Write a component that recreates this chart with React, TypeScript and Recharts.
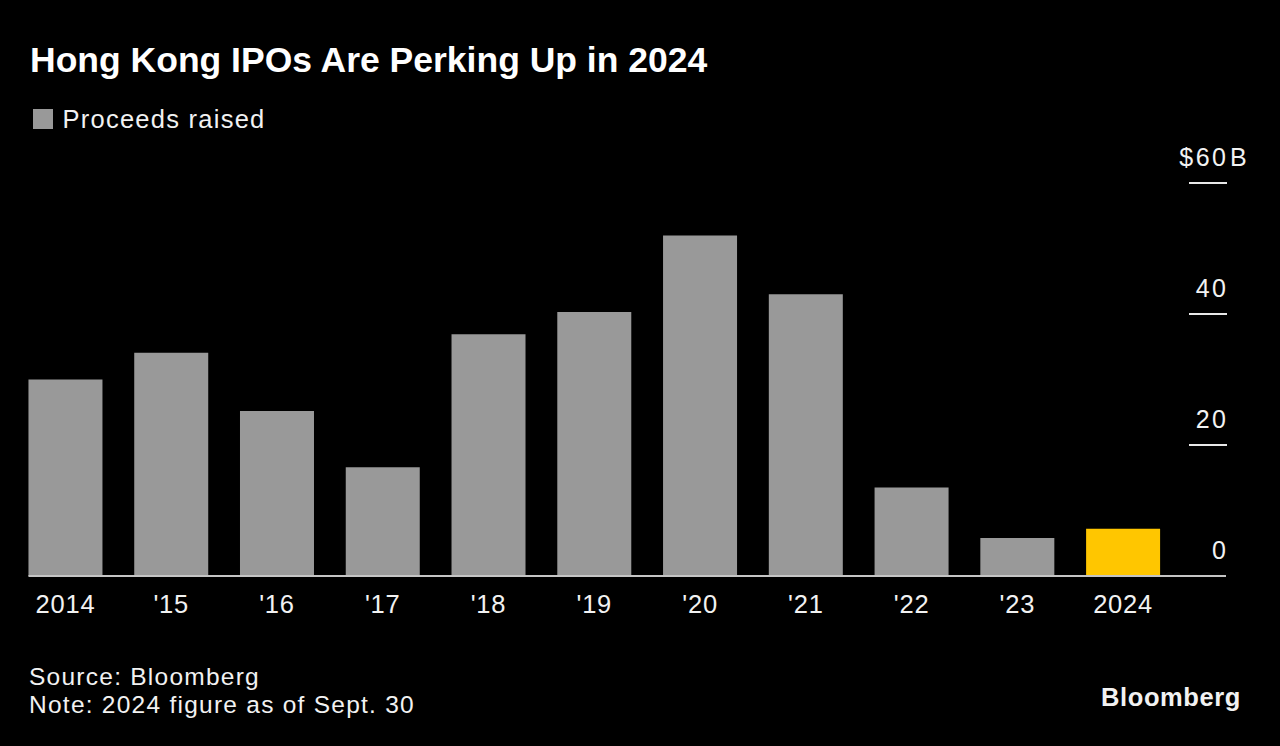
import { BarChart, Bar, XAxis, YAxis, Cell, ReferenceLine } from "recharts";

const years = ["2014", "'15", "'16", "'17", "'18", "'19", "'20", "'21", "'22", "'23", "2024"];
const proceeds = [30.0, 34.1, 25.2, 16.6, 36.9, 40.3, 52.0, 43.0, 13.5, 5.8, 7.2];
const yTicks = [0, 20, 40, 60];
const highlightYear = "2024";

const FONT = '"Liberation Sans", Arial, Helvetica, sans-serif';
const GRAY = "#999999";
const YELLOW = "#FFC600";
const TEXT = "#f2f2f2";

// plot box
const PLOT_LEFT = 12.6;
const PLOT_RIGHT = 1176;
const GAP = 0.15; // share of each band left empty on each side of a bar
const BAND = (PLOT_RIGHT - PLOT_LEFT) / years.length;

const data = years.map((year, i) => ({ year, value: proceeds[i] }));

function YTick(props: any) {
  const { x, y, payload } = props;
  const v = payload.value;
  const isTop = v === yTicks[yTicks.length - 1];
  return (
    <g>
      {v !== 0 && (
        <line x1={x + 13} x2={x + 51} y1={y} y2={y} stroke="#e8e8e8" strokeWidth={2} />
      )}
      <text
        x={x + 52.5}
        y={y - 17.5}
        textAnchor="end"
        fill={TEXT}
        fontSize={25}
        fontFamily={FONT}
        letterSpacing={2.5}
      >
        {isTop ? "$" + v : v}
      </text>
      {isTop && (
        <text x={x + 54} y={y - 17.5} fill={TEXT} fontSize={25} fontFamily={FONT}>
          B
        </text>
      )}
    </g>
  );
}

// baseline runs from the first bar's left edge out to the value labels
function Baseline(props: any) {
  const { y1 } = props;
  return (
    <line
      x1={PLOT_LEFT + BAND * GAP}
      y1={y1}
      x2={PLOT_RIGHT + 50}
      y2={y1}
      stroke="#c4c4c4"
      strokeWidth={2}
    />
  );
}

const textStyle = (size: number, top: number, left: number, extra: any = {}) => ({
  position: "absolute" as const,
  top,
  left,
  fontSize: size,
  lineHeight: 1,
  fontFamily: FONT,
  color: TEXT,
  whiteSpace: "nowrap" as const,
  ...extra,
});

export default function App() {
  return (
    <div
      style={{
        position: "absolute",
        left: 0,
        top: 0,
        width: 1280,
        height: 746,
        background: "#000",
        overflow: "hidden",
      }}
    >
      <div style={textStyle(35.5, 42.7, 30, { fontWeight: 700, color: "#fff" })}>
        Hong Kong IPOs Are Perking Up in 2024
      </div>
      <div style={{ position: "absolute", left: 33, top: 109, width: 20, height: 20, background: GRAY }} />
      <div style={textStyle(25.5, 107.4, 62.5, { letterSpacing: 1.25 })}>Proceeds raised</div>

      <div style={{ position: "absolute", left: 0, top: 0 }}>
        <BarChart
          width={1280}
          height={746}
          data={data}
          margin={{ top: 183, right: 50, bottom: 130, left: PLOT_LEFT }}
          barCategoryGap={`${GAP * 100}%`}
        >
          <XAxis
            dataKey="year"
            axisLine={false}
            tickLine={false}
            tickSize={0}
            tickMargin={19}
            height={40}
            interval={0}
            tick={{ fill: TEXT, fontSize: 25.5, fontFamily: FONT, letterSpacing: 0.8 }}
          />
          <YAxis
            orientation="right"
            domain={[0, 60]}
            ticks={yTicks}
            axisLine={false}
            tickLine={false}
            tickSize={0}
            tickMargin={0}
            width={54}
            tick={<YTick />}
          />
          <Bar dataKey="value" isAnimationActive={false}>
            {data.map((d) => (
              <Cell key={d.year} fill={d.year === highlightYear ? YELLOW : GRAY} />
            ))}
          </Bar>
          <ReferenceLine y={0} shape={<Baseline />} />
        </BarChart>
      </div>

      <div style={textStyle(24.5, 665, 29, { letterSpacing: 1.25 })}>Source: Bloomberg</div>
      <div style={textStyle(24.5, 692.6, 29, { letterSpacing: 1.25 })}>
        Note: 2024 figure as of Sept. 30
      </div>
      <div style={textStyle(25.5, 685.2, 1101, { fontWeight: 700, letterSpacing: 0.6 })}>Bloomberg</div>
    </div>
  );
}
